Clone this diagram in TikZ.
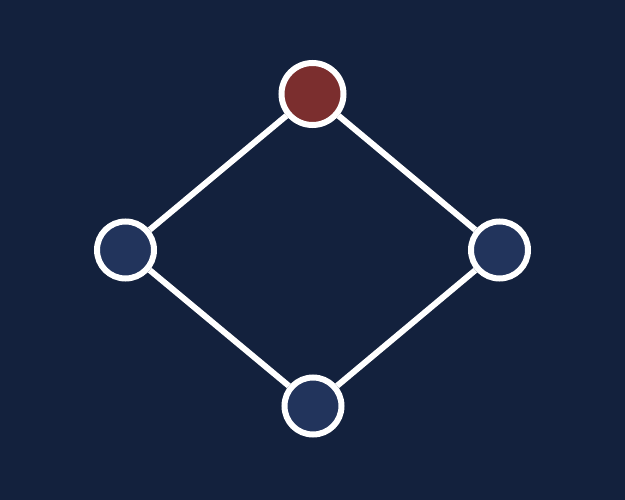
\documentclass[tikz,border=0pt]{standalone}
\definecolor{bg}{HTML}{13213D}
\definecolor{topred}{HTML}{7B2E2E}
\definecolor{nodeblue}{HTML}{22345C}
\tikzset{
  vert/.style={circle, draw=white, line width=6pt, inner sep=0pt, minimum size=57pt},
  edge/.style={draw=white, line width=6pt}
}
\begin{document}
\begin{tikzpicture}[x=1pt,y=-1pt]
\fill[bg] (0,0) rectangle (625,500);
\useasboundingbox (0,0) rectangle (625,500);
\node[vert, fill=topred, minimum size=62pt] (t) at (312.5,94) {};
\node[vert, fill=nodeblue] (l) at (125.5,250) {};
\node[vert, fill=nodeblue] (r) at (499.5,250) {};
\node[vert, fill=nodeblue] (b) at (313,406) {};
\draw[edge] (t) -- (l);
\draw[edge] (t) -- (r);
\draw[edge] (l) -- (b);
\draw[edge] (r) -- (b);
\end{tikzpicture}
\end{document}
